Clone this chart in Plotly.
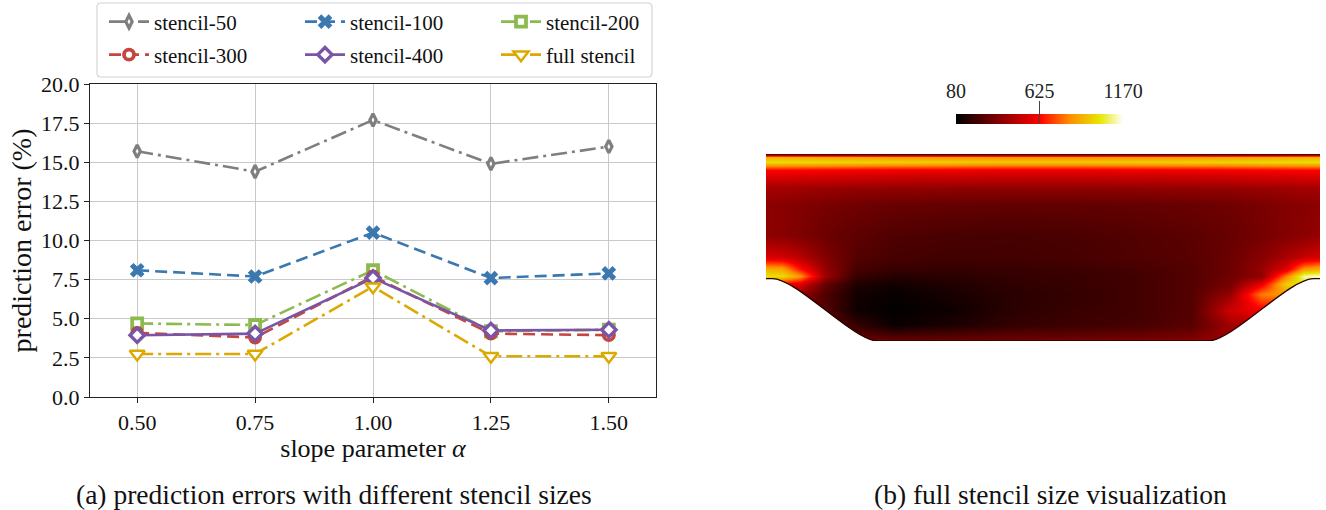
import plotly.graph_objects as go

W, H = 1326, 510
FONT = "Liberation Serif"

# ---------------- data: panel (a) ----------------
alpha = [0.50, 0.75, 1.00, 1.25, 1.50]
err_stencil_50 = [15.7, 14.4, 17.7, 14.9, 16.0]
err_stencil_100 = [8.1, 7.7, 10.5, 7.6, 7.9]
err_stencil_200 = [4.7, 4.6, 8.1, 4.2, 4.3]
err_stencil_300 = [4.1, 3.8, 7.7, 4.05, 3.95]
err_stencil_400 = [3.95, 4.05, 7.6, 4.25, 4.3]
err_full_stencil = [2.75, 2.75, 7.05, 2.6, 2.6]
series_names = ["stencil-50", "stencil-100", "stencil-200",
                "stencil-300", "stencil-400", "full stencil"]
y_ticks = [0, 2.5, 5, 7.5, 10, 12.5, 15, 17.5, 20]

# ---------------- data: panel (b) (field) ----------------
field_x = [-4.45, -4.2, -3.9, -3.5, -3.0, -2.4, -1.5, -0.5, 0.5, 1.5, 2.4, 3.0, 3.5, 3.9, 4.2, 4.45]
field_y = [0.0, 0.07, 0.25, 0.5, 0.75, 0.92, 1.04, 1.15, 1.35, 1.7, 2.2, 2.45, 2.62, 2.75, 2.87, 2.95, 3.0]
field_z = [
    [380, 380, 380, 380, 360, 340, 330, 330, 340, 350, 380, 420, 450, 450, 450, 450],
    [300, 300, 300, 300, 280, 260, 270, 290, 300, 310, 340, 420, 460, 460, 460, 460],
    [300, 300, 300, 300, 200, 100, 140, 190, 210, 230, 270, 420, 480, 480, 480, 480],
    [300, 300, 300, 260, 110, 85, 110, 170, 200, 220, 260, 520, 600, 600, 600, 600],
    [400, 400, 400, 250, 120, 95, 130, 170, 190, 220, 260, 400, 800, 850, 850, 850],
    [600, 600, 550, 300, 150, 120, 150, 180, 200, 220, 260, 330, 580, 970, 1020, 1020],
    [1010, 1000, 850, 420, 200, 160, 170, 190, 200, 220, 260, 320, 380, 800, 1120, 1150],
    [900, 880, 650, 400, 230, 200, 190, 200, 210, 230, 260, 310, 400, 560, 850, 900],
    [540, 530, 470, 360, 260, 230, 220, 220, 230, 250, 270, 310, 370, 440, 500, 540],
    [380, 370, 350, 310, 280, 250, 235, 230, 240, 255, 275, 300, 330, 360, 380, 400],
    [380, 370, 360, 340, 320, 305, 295, 290, 290, 295, 305, 320, 340, 360, 370, 380],
    [430, 430, 420, 410, 400, 395, 390, 385, 385, 390, 395, 400, 410, 420, 430, 430],
    [530, 530, 525, 520, 510, 500, 495, 490, 490, 495, 500, 510, 520, 525, 530, 530],
    [620, 620, 615, 610, 600, 595, 590, 585, 585, 590, 595, 600, 610, 615, 620, 620],
    [1000, 1000, 995, 990, 980, 970, 960, 950, 950, 960, 970, 980, 990, 995, 1000, 1000],
    [900, 900, 890, 880, 870, 860, 850, 840, 840, 850, 860, 870, 880, 890, 900, 900],
    [260, 260, 260, 260, 260, 260, 260, 260, 260, 260, 260, 260, 260, 260, 260, 260],
]
field_zmin, field_zmax = 80, 1170
cbar_ticks = [80, 625, 1170]
# channel outline (domain units): inflow width, step height, slope knots
domain_x = [-4.45, 4.45]
domain_y = [0.0, 3.0]
step_y = 1.0
slope_knots = [4.35, 3.95, 3.05, 2.65]

# ---------------- figure ----------------
fig = go.Figure()

styles = [
    dict(color="#7f7f7f", dash="16px,5px,3px,5px", symbol="diamond-tall", size=9, mlw=3.2, legend="legend"),
    dict(color="#3b78b0", dash="12px,6px", symbol="x", size=13, mlw=0, legend="legend"),
    dict(color="#8cba4e", dash="16px,5px,3px,5px", symbol="square", size=10, mlw=3.8, legend="legend"),
    dict(color="#c4463f", dash="12px,6px", symbol="circle", size=10, mlw=3.8, legend="legend2"),
    dict(color="#7a55a5", dash="solid", symbol="diamond", size=11, mlw=3.4, legend="legend2"),
    dict(color="#dba900", dash="16px,5px,3px,5px", symbol="triangle-down", size=13, mlw=2.5, legend="legend2"),
]
series = [err_stencil_50, err_stencil_100, err_stencil_200,
          err_stencil_300, err_stencil_400, err_full_stencil]

for name, vals, st in zip(series_names, series, styles):
    if st["mlw"] == 0:
        marker = dict(symbol=st["symbol"], size=st["size"], color=st["color"],
                      line=dict(width=0))
    else:
        marker = dict(symbol=st["symbol"], size=st["size"], color="white",
                      line=dict(width=st["mlw"], color=st["color"]))
    fig.add_trace(go.Scatter(
        x=alpha, y=vals, name=name, mode="lines+markers",
        line=dict(color=st["color"], width=2.6, dash=st["dash"]),
        marker=marker, legend=st["legend"], xaxis="x", yaxis="y",
    ))

colorscale = [
    [0.0, "#000000"],
    [0.5, "#ff0000"],
    [0.68, "#ff8c00"],
    [0.86, "#e6e600"],
    [1.0, "#ffffff"],
]

fig.add_trace(go.Heatmap(
    x=field_x, y=field_y, z=field_z, xaxis="x2", yaxis="y2",
    zsmooth="best", zmin=field_zmin, zmax=field_zmax, colorscale=colorscale,
    showlegend=False, hoverinfo="skip",
    colorbar=dict(
        orientation="h", x=956 / W, xanchor="left", y=1 - 124 / H, yanchor="bottom",
        len=167, lenmode="pixels", thickness=10, thicknessmode="pixels",
        xpad=0, ypad=0, outlinewidth=0, tickvals=cbar_ticks,
        ticks="inside", ticklen=23, tickwidth=1, tickcolor="#444444",
        ticklabelposition="inside", ticklabeloverflow="allow",
        tickfont=dict(family=FONT, size=20, color="#222222"),
    ),
))

axis_common = dict(
    showgrid=True, gridcolor="#c9c9c9", gridwidth=1,
    showline=True, linecolor="#222222", linewidth=1.2, mirror=True,
    ticks="outside", ticklen=5, tickcolor="#222222", zeroline=False,
    tickfont=dict(family=FONT, size=22, color="#111111"),
)

k0, k1, k2, k3 = slope_knots
mask_left = (f"M {domain_x[0]-0.2},{step_y} L {-k0},{step_y} "
             f"C {-k1},{step_y} {-k2},{domain_y[0]} {-k3},{domain_y[0]} "
             f"L {-k3},{domain_y[0]-0.3} L {domain_x[0]-0.2},{domain_y[0]-0.3} Z")
mask_right = (f"M {domain_x[1]+0.2},{step_y} L {k0},{step_y} "
              f"C {k1},{step_y} {k2},{domain_y[0]} {k3},{domain_y[0]} "
              f"L {k3},{domain_y[0]-0.3} L {domain_x[1]+0.2},{domain_y[0]-0.3} Z")
wall = (f"M {domain_x[0]},{step_y} L {-k0},{step_y} "
        f"C {-k1},{step_y} {-k2},{domain_y[0]} {-k3},{domain_y[0]} "
        f"L {k3},{domain_y[0]} C {k2},{domain_y[0]} {k1},{step_y} {k0},{step_y} "
        f"L {domain_x[1]},{step_y}")

# legend frame (rounded rectangle)
lx0, lx1, ly0, ly1 = 97 / W, 652 / W, 1 - 77 / H, 1 - 3 / H
rx, ry = 4 / W, 4 / H
frame = (f"M {lx0+rx},{ly1} L {lx1-rx},{ly1} Q {lx1},{ly1} {lx1},{ly1-ry} "
         f"L {lx1},{ly0+ry} Q {lx1},{ly0} {lx1-rx},{ly0} L {lx0+rx},{ly0} "
         f"Q {lx0},{ly0} {lx0},{ly0+ry} L {lx0},{ly1-ry} Q {lx0},{ly1} {lx0+rx},{ly1} Z")

legend_common = dict(
    orientation="h", xanchor="left", yanchor="middle", bgcolor="rgba(0,0,0,0)",
    borderwidth=0, entrywidth=141, entrywidthmode="pixels", itemwidth=40,
    font=dict(family=FONT, size=21, color="#111111"), itemclick=False,
)

fig.update_layout(
    width=W, height=H, margin=dict(l=0, r=0, t=0, b=0, autoexpand=False),
    paper_bgcolor="white", plot_bgcolor="white",
    font=dict(family=FONT, color="#111111"),
    xaxis=dict(domain=[90 / W, 656 / W], range=[0.4, 1.6], tickvals=alpha,
               tickformat=".2f", anchor="y",
               title=dict(text="slope parameter <i>α</i>", standoff=2,
                          font=dict(family=FONT, size=26)),
               **axis_common),
    yaxis=dict(domain=[1 - 397 / H, 1 - 84 / H], range=[0, 20], tickvals=y_ticks,
               tickformat=".1f", anchor="x",
               title=dict(text="prediction error (%)", standoff=1,
                          font=dict(family=FONT, size=28)),
               **axis_common),
    xaxis2=dict(domain=[766 / W, 1320 / W], range=domain_x, visible=False,
                anchor="y2", fixedrange=True),
    yaxis2=dict(domain=[1 - 341 / H, 1 - 154 / H], range=domain_y, visible=False,
                anchor="x2", fixedrange=True),
    legend=dict(x=104 / W, y=1 - 22 / H, **legend_common),
    legend2=dict(x=104 / W, y=1 - 55 / H, **legend_common),
    shapes=[
        dict(type="path", path=frame, xref="paper", yref="paper",
             line=dict(color="#d4d4d4", width=1.2), fillcolor="rgba(0,0,0,0)", layer="below"),
        dict(type="path", path=mask_left, xref="x2", yref="y2",
             fillcolor="white", line=dict(width=0), layer="above"),
        dict(type="path", path=mask_right, xref="x2", yref="y2",
             fillcolor="white", line=dict(width=0), layer="above"),
        dict(type="path", path=wall, xref="x2", yref="y2",
             line=dict(color="#2a0000", width=1.3), layer="above"),
    ],
    annotations=[
        dict(text="(a) prediction errors with different stencil sizes", x=334 / W,
             y=1 - 494 / H, xref="paper", yref="paper", showarrow=False,
             xanchor="center", yanchor="middle", font=dict(family=FONT, size=27.5)),
        dict(text="(b) full stencil size visualization", x=1050 / W,
             y=1 - 494 / H, xref="paper", yref="paper", showarrow=False,
             xanchor="center", yanchor="middle", font=dict(family=FONT, size=27.5)),
    ],
)

fig.write_html("out.html")
